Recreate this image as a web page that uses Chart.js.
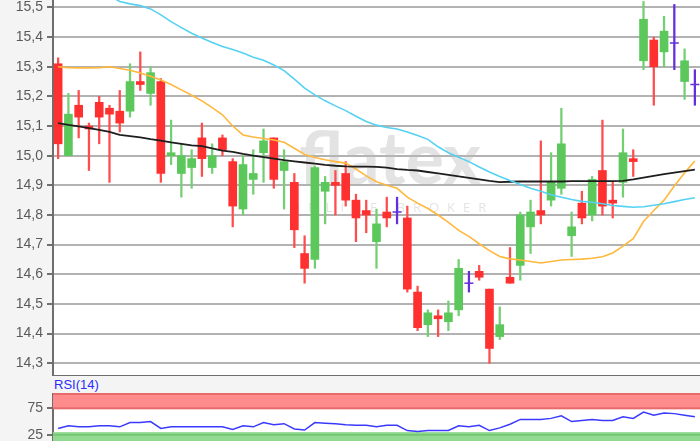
<!DOCTYPE html>
<html>
<head>
<meta charset="utf-8">
<script src="https://cdn.jsdelivr.net/npm/chart.js@4/dist/chart.umd.min.js"></script>
<style>
  html, body { margin: 0; padding: 0; width: 700px; height: 441px; overflow: hidden; background: #f4f4f4; }
  #main { position: absolute; left: 0; top: 0; }
  #rsi  { position: absolute; left: 0; top: 393px; }
  #rsiLabel { position: absolute; left: 54px; top: 377px; font: 13px "Liberation Sans", Arial, sans-serif; color: #2b2bff; }
</style>
</head>
<body>
<canvas id="main" width="700" height="376"></canvas>
<div id="rsiLabel">RSI(14)</div>
<canvas id="rsi" width="700" height="55"></canvas>
<script>
// ---------- candle values (one entry per day) ----------
const opens  = [15.31, 15.00, 15.17, 15.10, 15.18, 15.16, 15.15, 15.15, 15.25, 15.21,
                15.25, 15.00, 14.94, 14.96, 15.06, 14.96, 15.06, 14.98, 14.82, 14.92,
                15.01, 15.06, 14.95, 14.91, 14.67, 14.65, 14.88, 14.91, 14.94, 14.85,
                14.815, 14.71, 14.81, 14.81, 14.79, 14.54, 14.43, 14.46, 14.44, 14.48,
                14.57, 14.61, 14.55, 14.39, 14.59, 14.63, 14.76, 14.815, 14.85, 14.89,
                14.73, 14.84, 14.80, 14.95, 14.85, 14.91, 14.99, 15.32, 15.39, 15.35,
                15.38, 15.25, 15.24];
const highs  = [15.33, 15.21, 15.22, 15.11, 15.20, 15.17, 15.22, 15.31, 15.35, 15.30,
                15.26, 15.12, 15.04, 15.02, 15.11, 15.04, 15.07, 14.99, 15.00, 15.02,
                15.09, 15.06, 15.02, 14.94, 14.73, 14.965, 14.93, 14.95, 14.98, 14.87,
                14.85, 14.82, 14.86, 14.86, 14.83, 14.56, 14.48, 14.48, 14.51, 14.65,
                14.61, 14.63, 14.55, 14.49, 14.69, 14.81, 14.85, 15.05, 15.01, 15.16,
                14.81, 14.88, 14.93, 15.12, 14.91, 15.09, 15.02, 15.52, 15.40, 15.47,
                15.51, 15.36, 15.29];
const lows   = [14.99, 15.00, 15.06, 14.95, 15.04, 14.91, 15.08, 15.13, 15.22, 15.17,
                14.91, 14.97, 14.86, 14.89, 14.93, 14.94, 15.00, 14.76, 14.80, 14.87,
                14.91, 14.89, 14.82, 14.69, 14.57, 14.62, 14.77, 14.80, 14.83, 14.71,
                14.74, 14.62, 14.76, 14.77, 14.54, 14.41, 14.39, 14.39, 14.41, 14.46,
                14.54, 14.58, 14.30, 14.38, 14.57, 14.58, 14.67, 14.77, 14.83, 14.87,
                14.66, 14.77, 14.78, 14.80, 14.79, 14.86, 14.93, 15.29, 15.17, 15.30,
                15.29, 15.19, 15.17];
const closes = [15.04, 15.14, 15.13, 15.09, 15.13, 15.14, 15.11, 15.25, 15.24, 15.28,
                14.94, 15.01, 15.00, 14.99, 14.99, 15.00, 15.02, 14.83, 14.97, 14.94,
                15.05, 14.92, 14.98, 14.75, 14.62, 14.96, 14.91, 14.90, 14.85, 14.79,
                14.80, 14.77, 14.79, 14.81, 14.55, 14.42, 14.47, 14.45, 14.47, 14.62,
                14.57, 14.59, 14.35, 14.43, 14.57, 14.80, 14.81, 14.80, 14.91, 15.04,
                14.76, 14.79, 14.92, 14.83, 14.84, 15.01, 14.98, 15.46, 15.30, 15.42,
                15.38, 15.32, 15.24];

// moving averages
const maBlack  = [15.110, 15.104, 15.099, 15.093, 15.087, 15.080, 15.070, 15.066, 15.062, 15.056,
                  15.051, 15.045, 15.040, 15.035, 15.032, 15.025, 15.017, 15.013, 15.006, 15.000,
                  14.995, 14.990, 14.985, 14.981, 14.977, 14.973, 14.969, 14.966, 14.964, 14.963,
                  14.963, 14.962, 14.960, 14.955, 14.952, 14.950, 14.945, 14.940, 14.935, 14.930,
                  14.925, 14.920, 14.915, 14.911, 14.912, 14.913, 14.913, 14.913, 14.913, 14.913,
                  14.914, 14.914, 14.914, 14.914, 14.914, 14.915, 14.920, 14.926, 14.932, 14.938,
                  14.943, 14.948, 14.953];
const maOrange = [15.300, 15.297, 15.296, 15.296, 15.297, 15.300, 15.294, 15.288, 15.279, 15.268,
                  15.255, 15.240, 15.222, 15.204, 15.185, 15.162, 15.138, 15.100, 15.070, 15.063,
                  15.058, 15.053, 15.045, 15.025, 15.004, 14.994, 14.986, 14.980, 14.975, 14.955,
                  14.932, 14.912, 14.900, 14.890, 14.860, 14.840, 14.822, 14.800, 14.775, 14.748,
                  14.728, 14.703, 14.680, 14.660, 14.652, 14.648, 14.643, 14.638, 14.643, 14.648,
                  14.650, 14.651, 14.654, 14.659, 14.672, 14.695, 14.720, 14.778, 14.815, 14.850,
                  14.898, 14.942, 14.982];
const maCyan   = [null, null, null, null, null, 15.540, 15.520, 15.512, 15.506, 15.495,
                  15.475, 15.452, 15.432, 15.413, 15.397, 15.382, 15.368, 15.358, 15.346, 15.332,
                  15.322, 15.306, 15.287, 15.258, 15.228, 15.205, 15.185, 15.168, 15.152, 15.133,
                  15.115, 15.103, 15.095, 15.090, 15.080, 15.068, 15.055, 15.030, 15.010, 14.995,
                  14.980, 14.962, 14.945, 14.930, 14.916, 14.903, 14.890, 14.880, 14.868, 14.860,
                  14.852, 14.846, 14.843, 14.838, 14.832, 14.829, 14.826, 14.828, 14.833, 14.838,
                  14.845, 14.852, 14.858];

// RSI(14)
const rsi = [37, 42, 40, 40, 42, 42, 40, 48, 48, 50,
             37, 40, 40, 40, 40, 40, 40, 35, 42, 40,
             48, 44, 46, 36, 34, 48, 47, 46, 44, 43,
             43, 40, 43, 43, 33, 31, 33, 33, 33, 42,
             40, 43, 33, 38, 45, 54, 54, 54, 56, 61,
             50, 52, 54, 52, 52, 59, 56, 68, 62, 66,
             65, 62, 59];

// tick labels
const priceTicks = [14.3, 14.4, 14.5, 14.6, 14.7, 14.8, 14.9, 15.0, 15.1, 15.2, 15.3, 15.4, 15.5];
const rsiTicks   = [25, 50, 75];

// categories (one per trading day)
const days = opens.map((o, i) => 'Tag ' + (i + 1));

// ---------- colours ----------
const GREEN = '#5cc85c', GREEN_WICK = '#72d072';
const RED = '#ff3030', RED_WICK = '#ff4c4c';
const PURPLE = '#6430dc';

// build wick / body / doji arrays from the candle values
let wickData = [], bodyData = [], dojiData = [], wickColors = [], bodyColors = [];
for (let i = 0; i < opens.length; i++) {
  wickData.push([lows[i], highs[i]]);
  if (opens[i] === closes[i]) {           // open == close -> purple cross
    bodyData.push(null);
    dojiData.push(closes[i]);
    wickColors.push(PURPLE);
    bodyColors.push(PURPLE);
  } else {
    bodyData.push([opens[i], closes[i]]);
    dojiData.push(null);
    const up = closes[i] > opens[i];
    wickColors.push(up ? GREEN_WICK : RED_WICK);
    bodyColors.push(up ? GREEN : RED);
  }
}

function commaLabel(v) {
  return v.toFixed(1).replace('.', ',');
}

// white plot area
const areaBackground = {
  id: 'areaBackground',
  beforeDraw(chart) {
    const {ctx, chartArea} = chart;
    ctx.save();
    ctx.fillStyle = '#ffffff';
    ctx.fillRect(chartArea.left, chartArea.top, chartArea.right - chartArea.left, chartArea.bottom - chartArea.top);
    ctx.restore();
  }
};

// faint broker watermark behind the candles
const watermark = {
  id: 'watermark',
  beforeDatasetsDraw(chart) {
    const ctx = chart.ctx;
    ctx.save();
    ctx.fillStyle = 'rgba(185,185,185,0.4)';
    ctx.textAlign = 'center';
    ctx.font = 'bold 72px Lato, sans-serif';
    ctx.fillText('flatex', 390, 184);
    ctx.font = '13px "Open Sans", sans-serif';
    ctx.letterSpacing = '8px';
    ctx.fillText('ONLINE BROKER', 392, 212);
    ctx.restore();
  }
};

// red / green zones of the RSI panel
const rsiZones = {
  id: 'rsiZones',
  beforeDatasetsDraw(chart) {
    const {ctx, chartArea} = chart;
    const y = chart.scales.y;
    const w = chartArea.right - chartArea.left;
    const y75 = y.getPixelForValue(75), y30 = y.getPixelForValue(30), y25 = y.getPixelForValue(25);
    ctx.save();
    ctx.fillStyle = '#ff8c8c';
    ctx.fillRect(chartArea.left, chartArea.top, w, y75 - chartArea.top);
    ctx.fillStyle = '#e86a6a';
    ctx.fillRect(chartArea.left, chartArea.top, w, 2);
    ctx.fillRect(chartArea.left, y75 - 1, w, 2);
    ctx.fillStyle = '#92da92';
    ctx.fillRect(chartArea.left, y30, w, chartArea.bottom - y30);
    ctx.fillStyle = '#74c874';
    ctx.fillRect(chartArea.left, y25 - 1, w, 2);
    ctx.restore();
  }
};

function fixWidth(scale) {
  scale.width = 53;
  scale.paddingTop = 0;
  scale.paddingBottom = 0;
}

const tickFont = {family: '"Liberation Sans", Arial, sans-serif', size: 14};

// ---------- main candle chart ----------
new Chart(document.getElementById('main'), {
  type: 'bar',
  data: {
    labels: days,
    datasets: [
      {type: 'line', label: 'MA lang', data: maCyan, borderColor: '#55d2f2', borderWidth: 1.6, pointRadius: 0, order: 0},
      {type: 'line', label: 'MA mittel', data: maBlack, borderColor: '#1e1e1e', borderWidth: 1.8, pointRadius: 0, order: 0},
      {type: 'line', label: 'MA kurz', data: maOrange, borderColor: '#ffb83c', borderWidth: 1.6, pointRadius: 0, order: 0},
      {type: 'line', label: 'Doji', data: dojiData, showLine: false, pointStyle: 'line', pointRadius: 4.5,
       borderColor: PURPLE, borderWidth: 1.5, order: 1},
      {label: 'Body', data: bodyData, backgroundColor: bodyColors, barThickness: 8, grouped: false, order: 1},
      {label: 'Docht', data: wickData, backgroundColor: wickColors, barThickness: 1.6, grouped: false, order: 2}
    ]
  },
  options: {
    responsive: false,
    animation: false,
    layout: {padding: 0, autoPadding: false},
    plugins: {legend: {display: false}, tooltip: {enabled: false}},
    scales: {
      x: {
        offset: true,
        grid: {display: false, drawTicks: false},
        ticks: {display: false},
        border: {display: true, color: '#6e6e6e', width: 2}
      },
      y: {
        min: 14.257,
        max: 15.525,
        afterBuildTicks: (scale) => { scale.ticks = priceTicks.map(v => ({value: v})); },
        afterFit: fixWidth,
        grid: {color: '#b2b2b2', lineWidth: 2, tickColor: '#707070', tickLength: 6},
        border: {color: '#6e6e6e', width: 2},
        ticks: {padding: 4, color: '#5a5a5a', font: tickFont, callback: (v) => commaLabel(v)}
      }
    }
  },
  plugins: [areaBackground, watermark]
});

// ---------- RSI panel ----------
new Chart(document.getElementById('rsi'), {
  type: 'line',
  data: {
    labels: days,
    datasets: [
      {label: 'RSI(14)', data: rsi, borderColor: '#3a3aff', borderWidth: 1.5, pointRadius: 0}
    ]
  },
  options: {
    responsive: false,
    animation: false,
    layout: {padding: 0, autoPadding: false},
    plugins: {legend: {display: false}, tooltip: {enabled: false}},
    scales: {
      x: {offset: true, display: false},
      y: {
        min: 0,
        max: 104,
        afterBuildTicks: (scale) => { scale.ticks = rsiTicks.map(v => ({value: v})); },
        afterFit: fixWidth,
        grid: {
          color: (c) => c.tick && c.tick.value === 50 ? '#b2b2b2' : 'rgba(0,0,0,0)',
          tickColor: (c) => c.tick && c.tick.value === 50 ? 'rgba(0,0,0,0)' : '#707070',
          lineWidth: 2, tickLength: 6
        },
        border: {color: '#6e6e6e', width: 2},
        ticks: {padding: 4, color: '#5a5a5a', font: tickFont, callback: (v) => v === 50 ? '' : String(v)}
      }
    }
  },
  plugins: [areaBackground, rsiZones]
});
</script>
</body>
</html>
